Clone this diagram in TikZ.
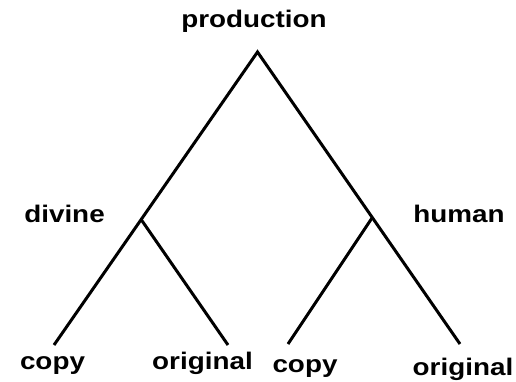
\documentclass[tikz,border=0pt]{standalone}
\usepackage{fontspec}
\setmainfont{Liberation Sans}
\begin{document}
\begin{tikzpicture}[x=1pt,y=-1pt,
  lbl/.style={font=\fontsize{24}{27}\selectfont\bfseries, anchor=base, inner sep=0pt, xscale=1.16},
  edge/.style={line width=3pt, line cap=butt, line join=miter}]
\useasboundingbox (0,0) rectangle (516,381);
\coordinate (top) at (257.5,52);
\coordinate (dv) at (141.5,220);
\coordinate (hm) at (372,218);
\coordinate (c1) at (54,345);
\coordinate (o1) at (228,345);
\coordinate (c2) at (288,344);
\coordinate (o2) at (460,344);
\draw[edge] (c1) -- (top) -- (o2);
\draw[edge] (dv) -- (o1);
\draw[edge] (hm) -- (c2);
\node[lbl] (production) at (254,27) {production};
\node[lbl] (divine) at (64.5,222) {divine};
\node[lbl] (human) at (459,222) {human};
\node[lbl] (copyA) at (52.5,369) {copy};
\node[lbl] (origA) at (202.5,369) {original};
\node[lbl] (copyB) at (305,372) {copy};
\node[lbl] (origB) at (463,375) {original};
\end{tikzpicture}
\end{document}
